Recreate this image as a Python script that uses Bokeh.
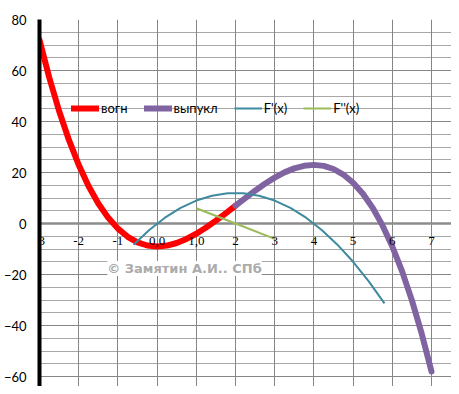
from bokeh.plotting import figure
from bokeh.models import (Range1d, FixedTicker, SingleIntervalTicker, Legend,
                          LegendItem, Label, LabelSet, Span, ColumnDataSource,
                          Grid)
from bokeh.embed import file_html
from bokeh.resources import INLINE

# ---- data ----
x_concave = [-3, -2.75, -2.5, -2.25, -2, -1.75, -1.5, -1.25, -1, -0.75, -0.5,
             -0.25, 0, 0.25, 0.5, 0.75, 1, 1.25, 1.5, 1.75, 2]
y_concave = [72, 57.17, 44.13, 32.77, 23, 14.73, 7.88, 2.33, -2, -5.2, -7.38,
             -8.61, -9, -8.64, -7.63, -6.05, -4, -1.58, 1.13, 4.02, 7]

x_convex = [2, 2.25, 2.5, 2.75, 3, 3.25, 3.5, 3.75, 4, 4.25, 4.5, 4.75, 5,
            5.25, 5.5, 5.75, 6, 6.25, 6.5, 6.75, 7]
y_convex = [7, 9.98, 12.88, 15.58, 18, 20.05, 21.63, 22.64, 23, 22.61, 21.38,
            19.2, 16, 11.67, 6.13, -0.73, -9, -18.77, -30.13, -43.17, -58]

x_d1 = [-0.6, -0.2, 0.2, 0.6, 1.0, 1.4, 1.8, 2.2, 2.6, 3.0, 3.4, 3.8, 4.2,
        4.6, 5.0, 5.4, 5.8]
y_d1 = [-8.28, -2.52, 2.28, 6.12, 9, 10.92, 11.88, 11.88, 10.92, 9, 6.12,
        2.28, -2.52, -8.28, -15, -22.68, -31.32]

x_d2 = [1, 2, 3]
y_d2 = [6, 0, -6]

series_names = ["вогн", "выпукл", "F'(x)", "F''(x)"]

x_ticks = [-3, -2, -1, 0, 1, 2, 3, 4, 5, 6, 7]
x_tick_labels = ["-3", "-2", "-1", "0,0", "1,0", "2", "3", "4", "5", "6", "7"]
x_axis_level = [0] * len(x_ticks)

copyright_text = "© Замятин А.И.. СПб"

FONT = "Lato"

p = figure(width=451, height=386, output_backend="svg", toolbar_location=None,
           x_range=Range1d(-3, 7.51), y_range=Range1d(-63.9, 80),
           x_axis_type=None,
           min_border_left=38, min_border_top=19, min_border_right=0,
           min_border_bottom=0)
p.outline_line_color = None
p.background_fill_color = "white"

# vertical grid
p.add_layout(Grid(dimension=0, ticker=FixedTicker(ticks=x_ticks),
                  grid_line_color="#868686", grid_line_width=1))

# horizontal grid
p.yaxis.ticker = SingleIntervalTicker(interval=20, num_minor_ticks=4)
p.ygrid.grid_line_color = "#868686"
p.ygrid.grid_line_width = 1
p.ygrid.minor_grid_line_color = "#a8a8a8"
p.ygrid.minor_grid_line_width = 1

# y axis
ya = p.yaxis[0]
ya.axis_line_color = "black"
ya.axis_line_width = 4
ya.major_tick_line_color = None
ya.minor_tick_line_color = None
ya.major_label_text_font = FONT
ya.major_label_text_font_size = "13px"
ya.major_label_text_color = "black"
ya.major_label_standoff = 7

# horizontal axis line at y = 0 with its labels
zero = Span(location=0, dimension="width", line_color="#8c8c8c",
            line_width=2.5, level="underlay")
p.add_layout(zero)

tick_src = ColumnDataSource(dict(x=x_ticks, y=x_axis_level, text=x_tick_labels))
ticks = LabelSet(x="x", y="y", text="text", source=tick_src,
                 text_align="center", text_baseline="middle", y_offset=-17,
                 text_font=FONT, text_font_size="13px", text_color="black")
p.add_layout(ticks)

r1 = p.line(x_concave, y_concave, line_color="#ff0000", line_width=6,
            line_cap="round", line_join="round")
r2 = p.line(x_convex, y_convex, line_color="#8064a2", line_width=6,
            line_cap="round", line_join="round")
r3 = p.line(x_d1, y_d1, line_color="#3e8a9e", line_width=2)
r4 = p.line(x_d2, y_d2, line_color="#9bbb59", line_width=2)

lab = Label(x=-1.27, y=-17.6, text=copyright_text, text_font="DejaVu Sans",
            text_font_size="13px", text_font_style="bold",
            text_color="#ababab", text_baseline="middle",
            background_fill_color="white")
p.add_layout(lab)

legend = Legend(items=[LegendItem(label=n, renderers=[r])
                       for n, r in zip(series_names, [r1, r2, r3, r4])],
                orientation="horizontal", location=(32, 270),
                background_fill_alpha=0, border_line_color=None,
                padding=0, margin=0, spacing=16, glyph_width=28,
                glyph_height=14, label_standoff=2,
                label_text_font=FONT, label_text_font_size="13px",
                label_text_color="black")
p.add_layout(legend)

open("out.html", "w").write(file_html(p, INLINE))
